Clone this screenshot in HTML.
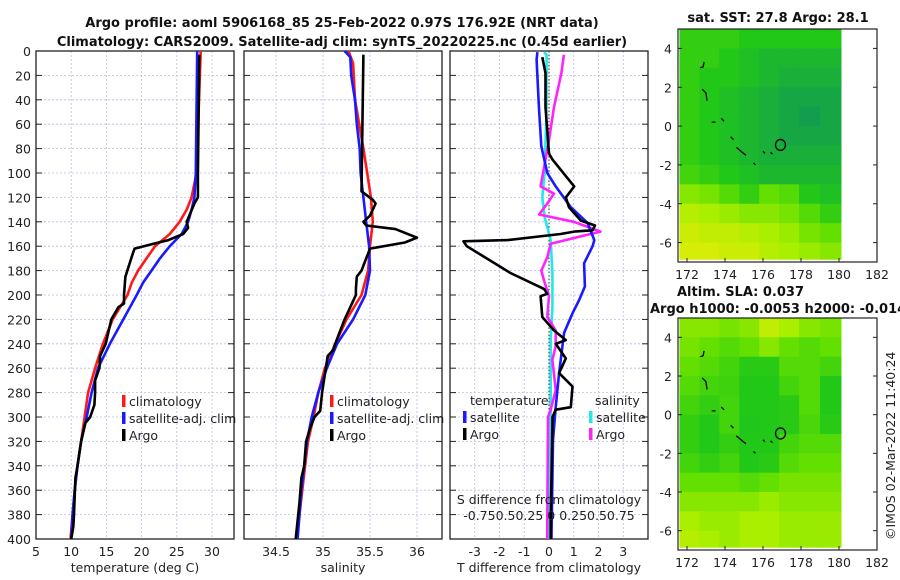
<!DOCTYPE html>
<html><head><meta charset="utf-8">
<style>
html,body{margin:0;padding:0;background:#fff;}
svg{display:block;font-family:"DejaVu Sans","Liberation Sans",sans-serif;}
.t{font-size:12.5px;fill:#222;}
.b{font-size:13px;font-weight:bold;fill:#111;}
</style></head>
<body>
<svg id="fig" width="900" height="580" viewBox="0 0 900 580" xmlns="http://www.w3.org/2000/svg">
<text class="b" x="342" y="27" text-anchor="middle">Argo profile: aoml 5906168_85 25-Feb-2022 0.97S 176.92E (NRT data)</text>
<text class="b" x="342" y="46" text-anchor="middle">Climatology: CARS2009. Satellite-adj clim: synTS_20220225.nc (0.45d earlier)</text>
<text class="b" x="778" y="22" text-anchor="middle">sat. SST: 27.8 Argo: 28.1</text>
<text class="b" x="677" y="296">Altim. SLA: 0.037</text>
<text class="b" x="650" y="313">Argo h1000: -0.0053 h2000: -0.014</text>
<text class="t" transform="translate(895,540) rotate(-90)">©IMOS 02-Mar-2022 11:40:24</text>
<g id="layer"></g>
</svg>
<script>
// ---------- data ----------
const tempClimDepth = [0,100,120,130,140,150,160,170,180,190,200,220,240,260,280,300,320,340,360,380,400];
const tempClim      = [28.4,27.8,27.1,26.4,25.4,24.0,21.9,20.7,19.5,18.6,18.0,15.9,14.5,13.4,12.4,11.9,11.4,10.9,10.5,10.2,9.9];
const tempSatDepth  = [0,100,120,130,140,150,160,170,180,190,200,220,240,260,280,300,320,340,360,380,400];
const tempSat       = [27.9,27.7,27.5,27.1,26.6,25.7,24.0,22.6,21.4,20.2,19.3,17.4,15.5,13.8,12.9,12.2,11.4,10.9,10.5,10.2,10.0];
const tempArgoDepth = [3,100,120,125,140,145,150,155,158,162,165,185,200,207,210,220,240,250,260,270,280,290,300,305,320,340,350,380,390,400];
const tempArgo      = [28.2,28.0,28.0,27.5,26.4,26.6,25.9,23.8,21.7,19.0,18.8,17.7,17.5,17.5,16.7,15.7,14.9,14.1,14.0,13.4,13.4,13.3,12.7,12.0,11.4,10.9,10.6,10.4,10.3,10.0];

const salClimDepth = [0,10,40,80,100,120,140,160,180,200,220,240,260,280,300,320,340,360,380,400];
const salClim      = [35.27,35.32,35.34,35.43,35.47,35.51,35.53,35.50,35.48,35.41,35.25,35.13,35.02,34.95,34.90,34.84,34.81,34.78,34.75,34.72];
const salSatDepth  = [0,5,20,40,60,80,100,120,140,160,180,200,220,240,260,280,300,320,340,360,380,400];
const salSat       = [35.23,35.29,35.30,35.34,35.36,35.39,35.40,35.43,35.46,35.49,35.50,35.45,35.32,35.15,35.04,34.95,34.88,34.83,34.80,34.77,34.75,34.73];
const salArgoDepth = [3,115,122,125,135,140,143,146,153,157,162,170,180,185,195,200,205,210,220,240,245,250,265,280,295,300,310,320,340,350,370,400];
const salArgo      = [35.43,35.41,35.53,35.56,35.50,35.43,35.46,35.77,36.00,35.87,35.50,35.46,35.41,35.36,35.35,35.35,35.32,35.29,35.23,35.13,35.11,35.05,35.02,34.99,34.97,34.91,34.86,34.82,34.80,34.77,34.75,34.71];

const dTSatDepth  = [1,7,46,78,100,111,128,141,155,160,174,193,204,215,231,264,292,319,387,400];
const dTSat       = [-0.47,-0.5,-0.41,-0.31,-0.07,0.27,0.88,1.56,1.83,1.76,1.42,1.45,1.22,0.95,0.61,0.41,0.27,0.16,0.11,0.1];
const dTArgoDepth = [5,18,46,84,89,111,120,128,139,143,147,148,150,155,156,160,177,182,195,199,201,218,229,237,240,252,264,275,292,294,300,387,400];
const dTArgo      = [-0.27,-0.14,-0.14,0,0.14,1.02,0.68,0.81,1.29,1.86,1.76,1.02,0.47,-1.69,-3.46,-3.32,-1.96,-1.56,-0.2,-0.07,-0.34,-0.27,0.2,0.68,0.27,0.68,0.41,0.95,0.88,0.27,0.14,0.07,0.07];
const dSSatDepth  = [1,3,46,100,120,136,155,182,210,237,292,387,400];
const dSSat       = [-0.05,-0.024,-0.024,-0.044,-0.068,-0.044,0.017,0.034,0.034,0.017,0.017,0.007,0.007];
const dSArgoDepth = [3,18,46,73,111,117,125,134,140,148,152,158,169,180,188,201,218,229,242,253,278,294,300,387,400];
const dSArgo      = [0.15,0.125,0.05,0,-0.085,0.05,-0.017,-0.1,0.25,0.52,0.32,0.017,-0.017,-0.078,-0.05,0,-0.017,0.068,0.068,0.034,0.068,0.017,-0.01,-0.017,-0.017];

// maps: 8 lon columns (171.6..180.1), 12 lat rows (5..-7)
const sstGrid = [
 [0.35,0.35,0.35,0.3,0.3,0.3,0.3,0.3],
 [0.35,0.35,0.3,0.25,0.2,0.2,0.2,0.2],
 [0.35,0.3,0.3,0.25,0.2,0.15,0.15,0.15],
 [0.35,0.3,0.25,0.2,0.15,0.1,0.1,0.1],
 [0.35,0.3,0.25,0.2,0.15,0.1,0.05,0.1],
 [0.35,0.3,0.25,0.2,0.15,0.1,0.1,0.1],
 [0.35,0.3,0.25,0.2,0.15,0.15,0.15,0.15],
 [0.4,0.35,0.3,0.25,0.2,0.2,0.2,0.2],
 [0.6,0.55,0.45,0.35,0.5,0.45,0.3,0.25],
 [0.75,0.7,0.65,0.6,0.6,0.55,0.45,0.35],
 [0.85,0.8,0.8,0.75,0.7,0.65,0.55,0.5],
 [0.9,0.9,0.85,0.85,0.75,0.7,0.65,0.6]];
const slaGrid = [
 [0.6,0.6,0.55,0.6,0.8,0.7,0.6,0.55],
 [0.55,0.5,0.45,0.5,0.6,0.5,0.45,0.5],
 [0.5,0.45,0.4,0.32,0.32,0.45,0.45,0.4],
 [0.45,0.4,0.38,0.3,0.3,0.4,0.45,0.3],
 [0.4,0.35,0.4,0.3,0.3,0.32,0.45,0.3],
 [0.35,0.3,0.4,0.28,0.3,0.32,0.42,0.32],
 [0.35,0.3,0.35,0.3,0.3,0.4,0.45,0.45],
 [0.4,0.35,0.4,0.3,0.32,0.45,0.5,0.5],
 [0.5,0.5,0.5,0.45,0.5,0.55,0.55,0.55],
 [0.6,0.6,0.6,0.6,0.65,0.6,0.6,0.6],
 [0.7,0.65,0.65,0.7,0.7,0.65,0.65,0.65],
 [0.75,0.7,0.65,0.7,0.7,0.65,0.65,0.65]];
const argoLon = 176.92, argoLat = -0.97;

// ---------- helpers ----------
const NS="http://www.w3.org/2000/svg";
const layer=document.getElementById('layer');
function mk(tag,attrs,parent){const e=document.createElementNS(NS,tag);for(const k in attrs)e.setAttribute(k,attrs[k]);(parent||layer).appendChild(e);return e;}
function txt(x,y,s,anchor,cls){const e=mk('text',{x:x,y:y,'text-anchor':anchor||'start','class':cls||'t'});e.textContent=s;return e;}
const Y0=51,Y1=539;
const yD=d=>Y0+(d/400)*(Y1-Y0);
function lin(v0,v1,p0,p1){return v=>p0+(v-v0)/(v1-v0)*(p1-p0);}

function profilePanel(x0,x1,xs,ticks,tickLabels,xlabel,name){
  const g=mk('g',{});
  
  
  for(let d=20;d<400;d+=20){
    const gl=mk('line',{x1:x0,x2:x1,y1:yD(d),y2:yD(d),stroke:'#b8bde0','stroke-width':0.8,'stroke-dasharray':'2,2'},g);
    
    
    mk('line',{x1:x0,x2:x0+6,y1:yD(d),y2:yD(d),stroke:'#222','stroke-width':1},g);
    mk('line',{x1:x1-6,x2:x1,y1:yD(d),y2:yD(d),stroke:'#222','stroke-width':1},g);
  }
  ticks.forEach((t,i)=>{
    const x=xs(t);
    const gl=mk('line',{x1:x,x2:x,y1:Y0,y2:Y1,stroke:'#b8bde0','stroke-width':0.8,'stroke-dasharray':'2,2'},g);
    
    
    if(tickLabels){const tl=txt(x,556,tickLabels[i],'middle');}
  });
  const fr=mk('rect',{x:x0,y:Y0,width:x1-x0,height:Y1-Y0,fill:'none',stroke:'#222','stroke-width':1.3},g);
  
  
  const xl=txt((x0+x1)/2,572,xlabel,'middle');
  
  
  return g;
}
function series(depths,vals,xs,color,name,w){
  const pts=depths.map((d,i)=>xs(vals[i]).toFixed(1)+','+yD(d).toFixed(1)).join(' ');
  const p=mk('polyline',{points:pts,fill:'none',stroke:color,'stroke-width':w||2.6,'stroke-linejoin':'round'});
  
  
}
function legendEntry(x,y,color,label,name){
  const r=mk('rect',{x:x,y:y-11,width:3.5,height:12,fill:color});
  
  
  const t=txt(x+7,y,label);
  
  
}

// y tick labels
for(let d=0;d<=400;d+=20){const t=txt(31,yD(d)+5,String(d),'end');}

// panel 1: temperature
const xT=lin(5,30,36,212);
profilePanel(36,234,xT,[5,10,15,20,25,30],['5','10','15','20','25','30'],'temperature (deg C)','temperature-panel');
series(tempClimDepth,tempClim,xT,'#ff1a1a','temp-climatology-line');
series(tempSatDepth,tempSat,xT,'#1a1aff','temp-satellite-line');
series(tempArgoDepth,tempArgo,xT,'#000','temp-argo-line');
legendEntry(122,406,'#ff1a1a','climatology','legend-climatology');
legendEntry(122,423,'#1a1aff','satellite-adj. clim','legend-satellite');
legendEntry(122,440,'#000','Argo','legend-argo');

// panel 2: salinity
const xS=lin(34.5,36,276,417);
profilePanel(244,442,xS,[34.5,35,35.5,36],['34.5','35','35.5','36'],'salinity','salinity-panel');
series(salClimDepth,salClim,xS,'#ff1a1a','sal-climatology-line');
series(salSatDepth,salSat,xS,'#1a1aff','sal-satellite-line');
series(salArgoDepth,salArgo,xS,'#000','sal-argo-line');
legendEntry(330,406,'#ff1a1a','climatology','legend-climatology-2');
legendEntry(330,423,'#1a1aff','satellite-adj. clim','legend-satellite-2');
legendEntry(330,440,'#000','Argo','legend-argo-2');

// panel 3: differences
const xD=lin(-4,4,450,648);
const xDS=v=>xD(v*4);
profilePanel(450,648,xD,[-3,-2,-1,0,1,2,3],['-3','-2','-1','0','1','2','3'],'T difference from climatology','difference-panel');
const zl=mk('line',{x1:xD(0),x2:xD(0),y1:Y0,y2:Y1,stroke:'#333','stroke-width':1,'stroke-dasharray':'1.5,2'});


series(dSSatDepth,dSSat,xDS,'#22e8e8','sal-diff-satellite-line');
series(dSArgoDepth,dSArgo,xDS,'#ff22ff','sal-diff-argo-line');
series(dTSatDepth,dTSat,xD,'#1a1aff','temp-diff-satellite-line');
series(dTArgoDepth,dTArgo,xD,'#000','temp-diff-argo-line');
{const t=txt(470,405,'temperature');}
{const t=txt(595,405,'salinity');}
legendEntry(463,422,'#1a1aff','satellite','legend-temp-satellite');
legendEntry(463,439,'#000','Argo','legend-temp-argo');
legendEntry(589,422,'#22e8e8','satellite','legend-sal-satellite');
legendEntry(589,439,'#ff22ff','Argo','legend-sal-argo');
{const t=txt(549,504,'S difference from climatology','middle');}
{const t=txt(549,520,'-0.750.50.25 0  0.250.50.75','middle');}

// ---------- maps ----------
const cmStops=[[0,[16,150,90]],[0.3,[34,200,24]],[0.5,[100,224,0]],[0.7,[170,238,0]],[1,[236,236,10]]];
function cmap(v){
  for(let i=1;i<cmStops.length;i++){if(v<=cmStops[i][0]){const a=cmStops[i-1],b=cmStops[i];const f=(v-a[0])/(b[0]-a[0]);
    const c=a[1].map((x,j)=>Math.round(x+(b[1][j]-x)*f));return 'rgb('+c.join(',')+')';}}
  return 'rgb(236,236,10)';
}
function mapPanel(top,bottom,grid,name){
  const xL=lin(172,182,687,877), yL=lin(5,-7,top,bottom);
  const g=mk('g',{});
  
  
  const lonEdges=[171.6,172.65,173.7,174.75,175.8,176.85,177.9,179.0,180.1];
  grid.forEach((row,r)=>row.forEach((v,c)=>{
    const la0=5-r, la1=Math.max(5-r-1,-6.85);
    const x0=xL(lonEdges[c]), x1=xL(lonEdges[c+1]);
    const cell=mk('rect',{x:x0.toFixed(1),y:yL(la0).toFixed(1),width:(x1-x0+0.6).toFixed(1),height:(yL(la1)-yL(la0)+0.6).toFixed(1),fill:cmap(v)},g);
    
    
  }));
  // island fragments
  const isl=[[[172.9,3.3],[172.85,3.05],[172.7,3.0]],[[172.8,1.9],[173.0,1.7],[173.05,1.3]],[[173.3,0.2],[173.5,0.2]],[[173.8,0.4],[173.95,0.25]],[[174.3,-0.55],[174.45,-0.7]],[[174.6,-1.1],[174.9,-1.35],[175.1,-1.5]],[[175.5,-1.9],[175.6,-2.0]],[[176.0,-1.3],[176.1,-1.4]],[[176.4,-1.35],[176.5,-1.45]]];
  isl.forEach(s=>{const p=mk('polyline',{points:s.map(q=>xL(q[0]).toFixed(1)+','+yL(q[1]).toFixed(1)).join(' '),fill:'none',stroke:'#000','stroke-width':1.3},g);
    });
  const c=mk('ellipse',{cx:xL(argoLon),cy:yL(argoLat),rx:5,ry:5.5,fill:'none',stroke:'#000','stroke-width':1.3},g);
  
  
  const fr=mk('rect',{x:678,y:top,width:199,height:bottom-top,fill:'none',stroke:'#222','stroke-width':1.2},g);
  
  
  [4,2,0,-2,-4,-6].forEach(la=>{
    mk('line',{x1:678,x2:682,y1:yL(la),y2:yL(la),stroke:'#222'},g);
    mk('line',{x1:873,x2:877,y1:yL(la),y2:yL(la),stroke:'#222'},g);
    const t=txt(672,yL(la)+5,String(la),'end');
  });
  [172,174,176,178,180,182].forEach(lo=>{
    mk('line',{x1:xL(lo),x2:xL(lo),y1:bottom-4,y2:bottom,stroke:'#222'},g);
    const t=txt(xL(lo),bottom+17,String(lo),'middle');
  });
}
mapPanel(29,262,sstGrid,'sst-map');
mapPanel(318,550,slaGrid,'sla-map');
</script>
</body></html>
